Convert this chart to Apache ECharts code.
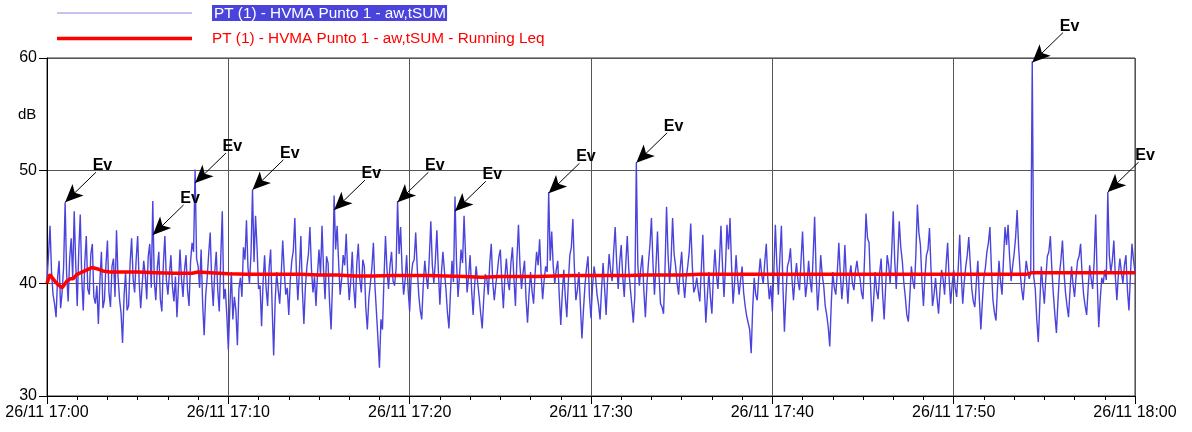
<!DOCTYPE html>
<html lang="en">
<head>
  <meta charset="UTF-8">
  <title>HVMA Punto 1</title>
  <script src="https://cdn.jsdelivr.net/npm/echarts@6/dist/echarts.min.js"></script>
</head>
<style>
    html, body { margin: 0; padding: 0; background: #fff; }
    #main { width: 1192px; height: 432px; }
</style>
<body>
<div id="main"></div>
<script>
  // seconds after 26/11 17:00, one reading every 10 s plus the swing in between
  const stepSeconds = 10
  const blueName = 'PT (1) - HVMA Punto 1 - aw,tSUM'
  const redName = 'PT (1) - HVMA Punto 1 - aw,tSUM - Running Leq'

  // aw,tSUM level in dB at 0, 10, 20 ... s (17:00 -> 18:00)
  const levelValues = [
    40.2, 45.1, 39.0, 37.0, 42.0, 39.2, 47.2, 38.4, 44.0, 46.4,
    38.0, 46.1, 37.6, 44.2, 39.0, 43.5, 38.2, 36.4, 42.8, 38.5,
    43.8, 37.9, 42.2, 44.7, 38.6, 34.7, 41.0, 38.0, 44.0, 39.2,
    44.2, 37.8, 42.0, 38.6, 43.5, 47.3, 38.5, 42.8, 37.5, 44.2,
    39.0, 42.5, 38.4, 37.0, 43.0, 38.8, 42.5, 38.0, 43.6, 50.1,
    41.5, 43.0, 35.4, 40.5, 44.5, 38.0, 42.8, 37.5, 46.4, 39.5,
    34.1, 41.0, 38.8, 34.5, 40.5, 43.2, 45.6, 40.0, 48.3, 46.0,
    39.5, 36.2, 42.5, 38.0, 43.0, 33.6, 41.0, 38.2, 43.8, 39.0,
    37.2, 42.0, 45.8, 38.5, 44.2, 36.4, 41.5, 45.0, 39.2, 38.0,
    43.0, 45.1, 38.6, 41.8, 35.9, 47.8, 45.1, 39.0, 42.5, 44.4,
    38.5, 42.8, 37.8, 43.5, 39.2, 41.5, 35.9, 40.0, 43.6, 37.5,
    32.5, 35.9, 44.2, 39.5, 42.8, 39.8, 47.3, 45.0, 39.0, 42.5,
    37.5, 41.8, 44.5, 39.0, 36.8, 42.0, 39.5, 45.5, 40.0, 44.7,
    38.1, 42.8, 39.5, 36.0, 42.0, 47.7, 38.8, 43.0, 46.0, 39.2,
    42.5, 37.2, 41.5, 38.8, 36.0, 40.8, 39.0, 43.5, 38.5, 41.0,
    43.0, 37.8, 42.2, 39.4, 43.2, 38.0, 45.2, 39.5, 42.0, 36.5,
    41.0, 38.2, 42.8, 43.9, 38.6, 41.5, 48.1, 44.6, 40.0, 42.0,
    36.3, 41.2, 37.0, 42.5, 45.7, 38.5, 41.0, 35.1, 39.8, 42.4,
    36.9, 41.5, 39.0, 36.8, 41.8, 37.2, 42.6, 40.2, 45.0, 39.5,
    43.4, 38.8, 44.2, 39.6, 36.5, 50.7, 39.8, 42.5, 37.0, 41.8,
    45.8, 39.0, 44.6, 38.2, 37.3, 46.8, 40.0, 45.8, 41.5, 39.0,
    42.8, 38.7, 41.5, 45.3, 39.2, 40.5, 38.4, 44.3, 36.5, 41.0,
    37.3, 43.0, 39.5, 45.1, 38.8, 45.2, 45.8, 38.2, 42.5, 39.0,
    41.5, 38.0, 36.5, 33.8, 40.5, 38.5, 42.2, 40.0, 43.5, 38.6,
    37.5, 45.2, 39.0, 45.1, 35.7, 41.5, 43.1, 38.5, 41.8, 39.4,
    44.6, 38.8, 42.0, 39.2, 45.9, 37.6, 42.5, 39.8, 37.2, 34.4,
    41.0, 39.0, 43.6, 38.6, 43.4, 38.2, 41.6, 39.4, 42.0, 40.5,
    38.6, 46.2, 43.6, 36.6, 41.0, 38.6, 42.2, 36.8, 42.5, 40.0,
    46.4, 39.5, 45.5, 42.0, 38.8, 36.6, 41.5, 39.5, 47.0, 43.4,
    38.0, 42.5, 44.9, 38.0, 40.5, 37.3, 41.2, 39.0, 43.6, 38.2,
    41.2, 38.8, 44.3, 38.2, 41.5, 44.1, 39.5, 37.9, 42.0, 35.9,
    40.5, 42.8, 45.0, 38.5, 36.7, 42.0, 39.0, 45.0, 45.2, 40.2,
    42.6, 46.5, 41.0, 38.5, 42.0, 40.4, 59.7, 39.5, 34.8, 41.5,
    38.2, 42.4, 44.2, 39.0, 35.6, 40.8, 43.8, 39.2, 37.0, 41.5,
    38.8, 42.0, 43.5, 39.0, 37.2, 41.6, 39.5, 46.1, 36.1, 40.5,
    41.2, 48.1, 41.0, 43.8, 38.5, 42.2, 40.0, 42.5, 37.6, 43.5,
    41.0
  ]

  // level at 5, 15, 25 ... s (the swing between the readings above)
  const levelValuesMid = [
    42.5, 41.0, 38.2, 40.5, 37.8, 41.5, 40.8, 42.2, 40.5, 41.8,
    42.8, 40.5, 41.8, 39.5, 42.6, 38.8, 39.8, 40.2, 37.8, 41.6,
    39.2, 41.5, 38.8, 40.6, 37.4, 38.9, 37.6, 41.8, 40.4, 42.1,
    40.1, 39.9, 40.8, 42.4, 39.6, 40.2, 41.4, 38.6, 41.7, 40.3,
    40.8, 39.7, 40.6, 39.8, 40.4, 41.2, 39.4, 41.9, 42.8, 42.2,
    39.6, 38.2, 38.9, 42.6, 40.2, 41.0, 39.4, 42.3, 38.6, 37.2,
    37.9, 36.8, 37.6, 39.5, 38.8, 42.1, 41.4, 42.6, 41.9, 43.2,
    39.8, 40.1, 39.6, 41.4, 37.9, 38.5, 39.4, 40.8, 41.1, 39.6,
    40.3, 42.9, 41.2, 41.0, 39.4, 39.7, 42.6, 41.3, 40.6, 40.8,
    40.7, 41.2, 42.4, 38.3, 40.3, 43.0, 41.8, 40.4, 41.6, 40.9,
    40.2, 39.6, 41.7, 40.4, 42.1, 37.8, 38.7, 41.4, 39.8, 35.1,
    36.8, 40.4, 41.2, 41.6, 40.2, 41.3, 42.6, 41.2, 40.3, 39.4,
    40.6, 42.1, 41.4, 37.6, 39.9, 40.6, 42.3, 41.6, 42.0, 41.1,
    40.9, 41.1, 37.4, 39.2, 40.1, 41.9, 40.7, 41.8, 42.4, 40.6,
    39.4, 39.9, 40.1, 37.3, 38.6, 40.5, 41.8, 40.1, 39.9, 42.3,
    40.1, 40.5, 40.2, 41.8, 40.4, 42.2, 41.6, 40.9, 38.7, 39.1,
    39.3, 40.9, 41.6, 40.8, 40.3, 41.0, 42.0, 41.5, 41.2, 38.9,
    39.1, 38.8, 40.1, 43.2, 41.4, 39.4, 38.0, 37.6, 41.3, 38.8,
    39.7, 40.6, 38.1, 39.5, 39.6, 40.4, 41.1, 42.8, 41.8, 41.9,
    40.6, 41.7, 41.2, 38.1, 38.9, 41.6, 41.4, 39.3, 39.9, 43.4,
    41.8, 41.5, 40.8, 37.9, 41.4, 42.5, 42.1, 42.6, 40.0, 41.3,
    40.2, 40.5, 42.8, 41.7, 39.6, 39.3, 41.2, 39.8, 38.9, 38.8,
    40.7, 40.8, 42.0, 41.6, 41.5, 43.0, 41.6, 40.0, 40.4, 40.3,
    39.2, 37.1, 35.9, 37.8, 39.0, 40.6, 40.7, 41.9, 40.4, 39.8,
    41.0, 41.6, 42.3, 39.8, 38.9, 42.0, 40.4, 40.5, 40.2, 42.0,
    41.2, 40.0, 40.3, 42.4, 40.8, 39.7, 40.8, 38.0, 36.1, 38.2,
    39.6, 41.0, 40.8, 40.2, 40.4, 40.6, 40.0, 41.1, 40.8, 39.2,
    42.1, 44.0, 39.8, 38.4, 39.3, 40.9, 39.0, 39.8, 41.6, 42.8,
    42.0, 42.3, 43.2, 40.1, 37.2, 38.9, 40.2, 42.6, 44.5, 40.2,
    40.6, 43.0, 41.3, 39.0, 38.7, 39.5, 40.4, 41.7, 40.4, 39.9,
    39.6, 41.3, 40.8, 40.1, 42.5, 41.7, 38.4, 40.1, 38.6, 38.4,
    41.4, 43.6, 41.2, 37.4, 39.6, 40.2, 42.2, 43.4, 42.4, 41.5,
    44.1, 43.2, 39.5, 40.3, 41.1, 40.9, 40.6, 36.8, 38.2, 39.7,
    40.5, 42.8, 41.2, 37.2, 38.4, 42.1, 41.0, 38.0, 39.4, 39.9,
    40.6, 42.4, 40.8, 38.0, 39.6, 40.4, 42.0, 40.2, 38.6, 40.0,
    40.3, 42.5, 42.0, 40.6, 40.8, 41.0, 41.6, 39.4, 40.8, 42.1
  ]

  // running Leq (s after 17:00, dB)
  const leqSeconds = [
    0, 10, 17, 26, 36, 50, 56, 66, 76, 86, 99, 116, 132, 149, 165, 185, 208,
    240, 300, 360, 420, 480, 500, 540, 600, 660, 720, 780, 840, 900, 960,
    1020, 1080, 1140, 1200, 1260, 1320, 1380, 1440, 1500, 1560, 1620, 1680,
    1740, 1800, 1860, 1920, 1980, 2040, 2100, 2160, 2220, 2280, 2400, 2520,
    2640, 2760, 2880, 3000, 3120, 3240, 3260, 3300, 3420, 3540, 3600
  ]
  const leqValues = [
    40.0, 40.8, 40.5, 40.2, 39.9, 39.6, 39.6, 40.2, 40.4, 40.4, 40.8, 41.0, 41.2, 41.4, 41.3, 41.1, 41.0,
    41.0, 41.0, 40.95, 40.9, 40.9, 41.0, 40.95, 40.85, 40.8, 40.8, 40.8, 40.8, 40.75, 40.75,
    40.65, 40.65, 40.7, 40.7, 40.7, 40.65, 40.6, 40.55, 40.6, 40.6, 40.6, 40.65,
    40.7, 40.7, 40.7, 40.7, 40.75, 40.75, 40.75, 40.8, 40.8, 40.8, 40.8, 40.8,
    40.8, 40.8, 40.8, 40.8, 40.8, 40.8, 40.95, 40.95, 40.95, 40.95, 40.95
  ]

  // "Ev" event markers: reading index of the spike and level where the arrow points
  const evIndex = [6, 35, 49, 68, 95, 116, 135, 166, 195, 326, 351]
  const evLevel = [47.2, 44.3, 48.9, 48.3, 46.5, 47.2, 46.4, 48.0, 50.7, 59.6, 48.1]

  const yTicks = [30, 40, 50, 60]

  const font = '"Liberation Sans", Arial, sans-serif'
  const blueColor = '#4b44dc'

  const levelData = []
  levelValues.forEach((v, i) => {
    levelData.push([i * stepSeconds, v])
    if (i < levelValuesMid.length) levelData.push([i * stepSeconds + stepSeconds / 2, levelValuesMid[i]])
  })
  const leqData = leqSeconds.map((s, i) => [s, leqValues[i]])

  function timeLabel (sec) {
    const total = 17 * 60 + Math.round(sec / 60)
    const h = Math.floor(total / 60)
    const m = total % 60
    return '26/11 ' + h + ':' + (m < 10 ? '0' + m : m)
  }

  const chart = echarts.init(document.getElementById('main'))
  chart.setOption({
    animation: false,
    textStyle: { fontFamily: font },
    grid: {
      left: 47, right: 57, top: 58, bottom: 36,
      show: true, borderColor: '#333', borderWidth: 1
    },
    legend: {
      left: 52, top: 0,
      orient: 'vertical',
      itemWidth: 135, itemHeight: 14, itemGap: 10,
      selectedMode: false,
      data: [
        { name: blueName, icon: 'path://M0 0H135V1H0Z', itemStyle: { color: '#8d88ea' } },
        { name: redName, icon: 'path://M0 0H135V3.5H0Z', itemStyle: { color: '#ff0000' } }
      ],
      formatter: name => name === blueName ? '{g| }{s|' + name + '}' : '{g| }{r|' + name + '}',
      textStyle: {
        fontFamily: font,
        fontSize: 15,
        rich: {
          g: { width: 15, fontSize: 15 },
          s: { fontSize: 15.3, fontFamily: font, color: '#fff', backgroundColor: blueColor, padding: [1, 1, 0, 2] },
          r: { fontSize: 15.3, fontFamily: font, color: '#ff0000' }
        }
      }
    },
    graphic: [{
      type: 'text', left: 18, top: 107,
      style: { text: 'dB', fontSize: 15, fontFamily: font, fill: '#000' }
    }],
    xAxis: {
      type: 'value',
      min: 0, max: 3600, interval: 600,
      axisLine: { lineStyle: { color: '#000', width: 1 } },
      axisTick: { show: true, length: 8, lineStyle: { color: '#000' } },
      minorTick: { show: true, splitNumber: 6, length: 4, lineStyle: { color: '#000' } },
      axisLabel: { color: '#000', fontSize: 16, margin: 9, formatter: timeLabel },
      splitLine: { show: true, lineStyle: { color: '#555', width: 1 } }
    },
    yAxis: {
      type: 'value',
      min: yTicks[0], max: yTicks[yTicks.length - 1], interval: 10,
      axisLine: { show: true, lineStyle: { color: '#000', width: 1 } },
      axisTick: { show: true, length: 8, lineStyle: { color: '#000' } },
      axisLabel: { color: '#000', fontSize: 16, margin: 10 },
      splitLine: { show: true, lineStyle: { color: '#555', width: 1 } }
    },
    series: [
      {
        name: blueName,
        type: 'line',
        data: levelData,
        symbol: 'none',
        showSymbol: false,
        sampling: 'none',
        lineStyle: { color: blueColor, width: 1.4 },
        itemStyle: { color: blueColor },
        emphasis: { disabled: true },
        z: 2
      },
      {
        name: redName,
        type: 'line',
        data: leqData,
        symbol: 'none',
        showSymbol: false,
        lineStyle: { color: '#ff0000', width: 3.5 },
        itemStyle: { color: '#ff0000' },
        emphasis: { disabled: true },
        z: 3
      }
    ]
  })

  // Ev arrows: tip on the spike, tail up-right of it (some tails leave the plot,
  // so both ends go in as pixels taken from the axes)
  const tailDx = 102, tailDy = 2.66
  const evLines = evIndex.map((idx, k) => {
    const tail = chart.convertToPixel({ gridIndex: 0 }, [idx * stepSeconds + tailDx, evLevel[k] + tailDy])
    const tip = chart.convertToPixel({ gridIndex: 0 }, [idx * stepSeconds, evLevel[k]])
    return [{ x: tail[0], y: tail[1] }, { x: tip[0], y: tip[1] }]
  })

  chart.setOption({
    series: [{
      name: blueName,
      markLine: {
        silent: true,
        symbol: ['none', 'arrow'],
        symbolSize: [12, 18],
        lineStyle: { color: '#000', width: 1, type: 'solid' },
        label: {
          show: true, position: 'start', formatter: 'Ev', distance: 9,
          color: '#000', fontSize: 16, fontWeight: 'bold', fontFamily: font
        },
        emphasis: { disabled: true },
        data: evLines
      }
    }]
  })
</script>
</body>
</html>
